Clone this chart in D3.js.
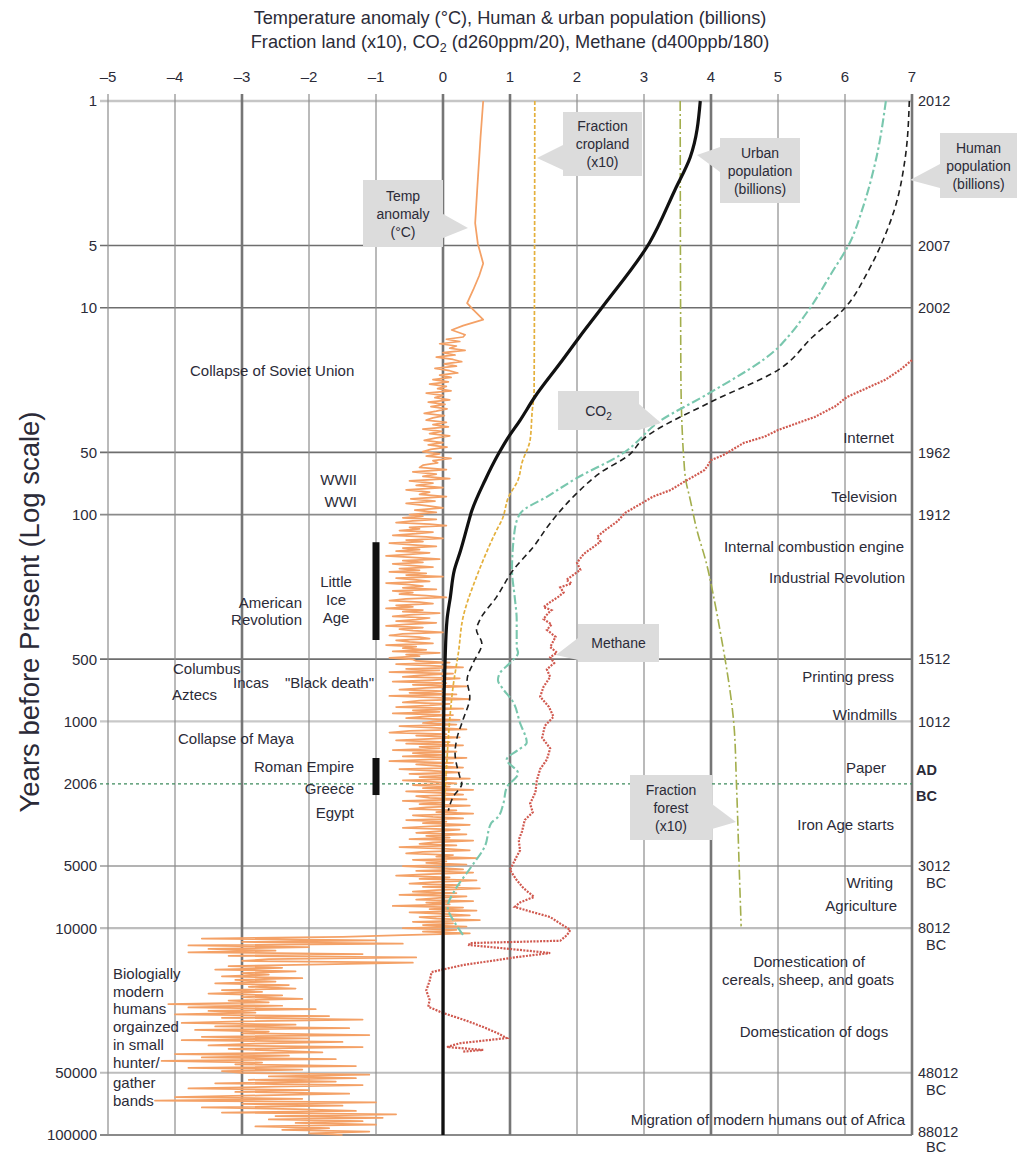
<!DOCTYPE html>
<html><head><meta charset="utf-8">
<script src="https://cdn.jsdelivr.net/npm/d3@7"></script>
<style>
body{margin:0;background:#fff}
svg{display:block}
text{font-family:"Liberation Sans",Arial,Helvetica,sans-serif;fill:#2b2b38}
</style>
</head><body>
<svg id="chart" width="1017" height="1155"></svg>
<script>
// ---------- axis data ----------
const xTicks = [-5,-4,-3,-2,-1,0,1,2,3,4,5,6,7];
const xTickLabels = ["\u20135","\u20134","\u20133","\u20132","\u20131","0","1","2","3","4","5","6","7"];
const xMajor = [-3,0,1,4,7];
const yTicks = [1,5,10,50,100,500,1000,5000,10000,50000,100000];
const yTickLabels = ["1","5","10","50","100","500","1000","5000","10000","50000","100000"];
const calendarLabels = [["2012"],["2007"],["2002"],["1962"],["1912"],["1512"],["1012"],["3012","BC"],["8012","BC"],["48012","BC"],["88012","BC"]];
const adBcYear = 2006;

// ---------- series (years before present, value) ----------
const urbanPop = [[1,3.84],[1.87,3.69],[2.7,3.46],[4.86,3.08],[10,2.37],[13.8,2.04],[18.5,1.75],[27,1.37],[35,1.15],[43,0.96],[51.4,0.82],[68,0.63],[98,0.42],[106,0.39],[150,0.26],[185,0.17],[250,0.11],[323,0.06],[522,0.03],[1000,0.01],[3000,0.004],[100000,0]];
const humanPop = [[1,6.96],[1.87,6.9],[3.25,6.75],[4.86,6.55],[6.79,6.33],[10,6.0],[13.8,5.52],[20,5.0],[28.5,4.0],[43.6,2.97],[51.4,2.78],[63,2.34],[78.7,2.0],[110,1.6],[143,1.35],[185,1.05],[250,0.8],[323,0.55],[361,0.5],[420,0.58],[522,0.45],[630,0.36],[760,0.4],[980,0.3],[1200,0.21],[1420,0.18],[1850,0.25],[2000,0.28],[2320,0.15],[2700,0.08]];
const co2 = [[1,6.61],[1.87,6.47],[3.25,6.27],[4.86,6.07],[6.79,5.8],[10,5.48],[13.8,5.15],[15.6,5.0],[25.8,3.98],[34.9,3.26],[51.4,2.65],[66.5,2.0],[82,1.55],[98,1.16],[119,1.07],[185,1.03],[250,1.07],[323,1.1],[437,1.1],[465,1.12],[522,1.0],[583,0.85],[630,0.82],[700,0.9],[790,1.03],[1018,1.15],[1270,1.25],[1375,1.12],[1530,0.95],[1780,1.12],[2090,0.95],[2500,0.9],[2900,0.82],[3100,0.72],[4050,0.62],[5060,0.42],[6530,0.18],[7890,0.07],[9440,0.18],[10790,0.3]];
const methane = [[17.9,7.0],[20,6.82],[22.3,6.6],[27,6.03],[30,5.85],[33.7,5.55],[39,5.0],[42,4.8],[45,4.49],[51.4,4.19],[54.5,4.0],[58,3.95],[61,3.9],[70,3.58],[76,3.4],[82,3.13],[88,2.97],[98,2.72],[108,2.6],[119,2.42],[128,2.3],[135,2.35],[143,2.25],[155,2.1],[171,2.0],[185,2.05],[207,1.84],[215,1.92],[225,1.75],[238,1.8],[250,1.72],[265,1.6],[280,1.5],[290,1.62],[299,1.57],[320,1.5],[340,1.62],[361,1.55],[390,1.68],[437,1.6],[465,1.7],[490,1.6],[522,1.66],[560,1.55],[610,1.6],[680,1.5],[760,1.45],[850,1.58],[950,1.65],[1050,1.52],[1200,1.48],[1350,1.6],[1530,1.55],[1700,1.45],[1930,1.4],[2200,1.38],[2500,1.3],[2750,1.34],[3000,1.22],[3400,1.18],[3740,1.13],[4200,1.15],[4500,1.1],[5230,1.0],[5850,1.1],[6400,1.2],[7060,1.36],[7500,1.15],[7890,1.07],[8300,1.3],[8830,1.6],[9500,1.75],[10200,1.9],[10800,1.85],[11500,1.75],[11800,0.4],[12060,0.39],[12600,1.0],[13180,1.6],[13800,1.1],[15070,0.3],[16290,-0.17],[18000,-0.2],[20000,-0.25],[22200,-0.2],[24000,-0.22],[25700,0.0],[28000,0.35],[30060,0.6],[32000,0.8],[33970,0.95],[35000,0.6],[36000,0.25],[37530,0.06],[38800,0.6],[39500,0.3]];
const cropland = [[1,1.37],[25,1.36],[32,1.33],[43.6,1.3],[56,1.18],[68,1.12],[82,0.98],[106,0.88],[119,0.8],[166,0.6],[200,0.5],[313,0.3],[465,0.23],[680,0.15],[980,0.1],[1720,0.05],[2800,0.01]];
const forest = [[1,3.54],[20,3.55],[39,3.57],[51.4,3.59],[70,3.63],[82,3.68],[119,3.79],[171,3.93],[250,4.04],[404,4.16],[522,4.22],[1018,4.34],[2003,4.38],[5000,4.42],[9800,4.45]];

// temperature anomaly: recent smooth part (years, °C), then noisy stretches read in hundredths of °C
const tempRecent = [[1,0.6],[1.5,0.56],[2.7,0.51],[3.9,0.48],[4.9,0.52],[6.1,0.6],[7,0.54],[8.2,0.45],[9.5,0.36],[10.2,0.45],[11.4,0.6],[12.2,0.3],[12.8,0.13],[13.5,0.33]];
const tempA = [30,5,25,-5,20,10,33,0,18,-10,15,28,2,20,-12,10,22,-5,12,
  -15,8,-20,5,-8,12,-25,0,-12,10,-22,3,-18,6,-10,-28,2,-15,
  -25,5,-15,8,-30,-2,-20,10,-12,-28,0,-22,6,-18,-30,-5,-25,12,-15,-8,-30,
  -35,5,-45,-10,-30,10,-50,-15,-40,0,-55,-20,-35,5,-48,-12,-55,-25,0,-42,-10,-50];
const tempB = [-30,-60,-10,-45,-70,-20,5,-50,-35,-65,-15,-40,-75,-25,0,-55,-30,-80,-45,-10,
  -60,-35,-70,-20,-50,-85,-40,-5,-60,-30,-75,-45,-15,-65,-35,-80,-25,-55,0,-70,
  -40,-20,-85,-50,-30,-60,-10,-75,-45,-65,-25,5,-55,-80,-35,-15,-70,-45,-85,-30,
  -60,-5,-50,-75,-20,-40,-70,-10,-55,-85,-30,-65,-45,0,-60,-80,-35,-20,-70,-50,
  -15,-85,-40,-60,-25,-75,-5,-55,-35,-80,-45,
  -40,10,-70,-20,30,-55,-5,-80,15,-35,-60,25,-15,-75,5,-45,35,-25,-65,0,
  -50,20,-80,-10,40,-35,-60,10,-20,-70,30,-45,-5,-75,15,-30,-55,25,-15];
const tempC = [-30,20,-65,-10,35,-50,-80,5,-40,25,-20,-70,10,-55,30,-35,-5,-75,20,-45,
  0,-60,35,-25,-80,15,-40,-10,30,-65,-20,25,-50,5,-35,40,-60,-15,20,-45,
  10,-30,45,-55,-5,30,-40,-20,35,-60,0,-35,40,-25,-50,20,-10,45,-45,-15,
  30,-55,5,-30,40,-20,-60,25,-5,-40,35,-25,10,-50,45,-15,-35,20,-65,0,
  40,-30,-55,15,-10,50,-45,5,-25,35,-60,-5,30,-40,45,-20,-70,10,-35,50,
  -15,-50,25,-30,55,-10,-45,20,-65,35,-5,-40,45,-25,10,-75,30,-20,50,-50,
  0,40,-35,-10,55,-45,15,-30,35,-60];
const tempD = [20,-30,40,-60,
  -150,-360,-100,-300,-60,-380,-200,
  -350,-250,-380,-120,-320,-40,-260,-300,-45,-180,
  -320,-240,-340,-220,-300,-260,-330,-210,-310,-250,-340,-230,-290,-220,-330,-270,-350,-240,-300,-210,-320,-260,
  -410,-240,-380,-190,-350,-280,-400,-170,-330,-120,-300,
  -390,-220,-340,-140,-370,-260,-300,-110,-360,-200,-390,-150,-280,-350,-120,-320,-250,-180,-400,-230,-360,-160,-420,-270,-310,-130,-380,-210,-330,
  -300,-110,-260,-130,-290,-160,-340,-120,-250,-380,-200,-310,-140,-270,
  -400,-210,-430,-100,-300,-150,-360,-220,-130,-330,-70,-250,
  -90,-260,-120,-220,-100,-280,-170,-240,-110,-200,-150];
const tempSpans = [[13.5,100,tempA],[100,1000,tempB],[1000,10000,tempC],[10000,100000,tempD]];

// coolings marked with bars: [x value, from years, to years]
const coolBars = [[-1,136,404],[-1,1503,2270]];

// ---------- scales ----------
const svg = d3.select("#chart");
const x = d3.scaleLinear().domain([-5,7]).range([108,912]);
const y = d3.scaleLog().domain([1,100000]).range([101,1135]);

// ---------- titles ----------
svg.append("text").attr("x",510).attr("y",24).attr("text-anchor","middle").attr("font-size",18.2)
  .text("Temperature anomaly (\u00B0C),  Human & urban population (billions)");
const t2 = svg.append("text").attr("x",510).attr("y",48).attr("text-anchor","middle").attr("font-size",18.2);
t2.append("tspan").text("Fraction land (x10),  CO");
t2.append("tspan").attr("font-size",12.5).attr("dy",4).text("2");
t2.append("tspan").attr("dy",-4).text(" (d260ppm/20), Methane (d400ppb/180)");

// ---------- grid ----------
const grid = svg.append("g");
const hStyle = {1:["#c6c6c6",2.5],5:["#6e6e6e",1.6],10:["#6e6e6e",1.6],50:["#6e6e6e",1.6],100:["#8a8a8a",1.6],500:["#6e6e6e",1.6],1000:["#c8c8c8",2.2],5000:["#9a9a9a",1.5],10000:["#bdbdbd",2.2],50000:["#bdbdbd",1.8],100000:["#8a8a8a",2]};
grid.selectAll("line.h").data(yTicks).join("line").attr("class","h")
  .attr("x1",100).attr("x2",x(7)).attr("y1",d=>y(d)).attr("y2",d=>y(d))
  .attr("stroke",d=>hStyle[d][0]).attr("stroke-width",d=>hStyle[d][1]);
grid.selectAll("line.v").data(xTicks).join("line").attr("class","v")
  .attr("x1",d=>x(d)).attr("x2",d=>x(d)).attr("y1",94).attr("y2",y(100000))
  .attr("stroke",d=>xMajor.includes(d)?"#767676":"#8c8c8c")
  .attr("stroke-width",d=>xMajor.includes(d)?2.6:1.2);

// top axis labels
svg.selectAll("text.xt").data(xTicks).join("text").attr("class","xt")
  .attr("x",d=>x(d)).attr("y",82).attr("text-anchor","middle").attr("font-size",15)
  .text((d,i)=>xTickLabels[i]);
// left labels
svg.selectAll("text.yt").data(yTicks).join("text").attr("class","yt")
  .attr("x",97).attr("y",d=>y(d)).attr("dy","0.36em").attr("text-anchor","end").attr("font-size",15)
  .text((d,i)=>yTickLabels[i]);
svg.append("text").attr("x",97).attr("y",y(adBcYear)).attr("dy","0.36em").attr("text-anchor","end").attr("font-size",15).text(String(adBcYear));
// right calendar labels
yTicks.forEach((d,i)=>{
  const lab = calendarLabels[i];
  const yy = d===100000 ? y(d)-3 : y(d);
  const t = svg.append("text").attr("x",918).attr("y",yy).attr("dy","0.36em").attr("font-size",14.5);
  if(lab.length===1){ t.text(lab[0]); }
  else {
    t.append("tspan").attr("x",918).text(lab[0]);
    t.append("tspan").attr("x",926).attr("dy",d===100000?15:17).text(lab[1]);
  }
});
svg.append("text").attr("x",916).attr("y",y(adBcYear)-14).attr("dy","0.36em").attr("font-size",14.5).attr("font-weight","bold").text("AD");
svg.append("text").attr("x",916).attr("y",y(adBcYear)+12).attr("dy","0.36em").attr("font-size",14.5).attr("font-weight","bold").text("BC");

// AD/BC dotted line
svg.append("line").attr("x1",100).attr("x2",x(7)).attr("y1",y(adBcYear)).attr("y2",y(adBcYear))
  .attr("stroke","#3d8a5c").attr("stroke-width",1.3).attr("stroke-dasharray","3,3");

// y axis title
svg.append("text").attr("transform",`translate(29,612) rotate(-90)`).attr("dy","0.36em")
  .attr("text-anchor","middle").attr("font-size",27.5).attr("fill","#333").text("Years before Present (Log scale)");

// ---------- series ----------
const plot = svg.append("g");
const smooth = d3.line().x(d=>x(d[1])).y(d=>y(d[0])).curve(d3.curveMonotoneY);
const straight = d3.line().x(d=>x(d[1])).y(d=>y(d[0]));

// temperature
let tempSeries = tempRecent.slice();
tempSpans.forEach(([a,b,vals])=>{
  const n = vals.length;
  vals.forEach((v,i)=>{ tempSeries.push([a*Math.pow(b/a,(i+1)/n), v/100]); });
});
plot.append("path").attr("d",straight(tempSeries)).attr("fill","none")
  .attr("stroke","#f4a166").attr("stroke-width",1.75).attr("stroke-linejoin","round");

plot.append("path").attr("d",smooth(cropland)).attr("fill","none")
  .attr("stroke","#e4b03c").attr("stroke-width",1.7).attr("stroke-dasharray","4,2");
plot.append("path").attr("d",smooth(forest)).attr("fill","none")
  .attr("stroke","#a3ae4c").attr("stroke-width",1.6).attr("stroke-dasharray","10,3,2,3");
plot.append("path").attr("d",straight(methane)).attr("fill","none")
  .attr("stroke","#d0594f").attr("stroke-width",2.2).attr("stroke-dasharray","2,1.3");
plot.append("path").attr("d",smooth(co2)).attr("fill","none")
  .attr("stroke","#79c7ae").attr("stroke-width",2.1).attr("stroke-dasharray","9,3,2.5,3");
plot.append("path").attr("d",smooth(humanPop)).attr("fill","none")
  .attr("stroke","#1e1e1e").attr("stroke-width",1.6).attr("stroke-dasharray","6,4");
plot.append("path").attr("d",smooth(urbanPop)).attr("fill","none")
  .attr("stroke","#111").attr("stroke-width",3.2);

// bars
plot.selectAll("rect.bar").data(coolBars).join("rect").attr("class","bar")
  .attr("x",d=>x(d[0])-3.5).attr("width",7).attr("y",d=>y(d[1])).attr("height",d=>y(d[2])-y(d[1]))
  .attr("fill","#111");

// ---------- event annotations ----------
const events = [
 ["Collapse of Soviet Union",190,371,"start"],
 ["WWII",357,480,"end"],["WWI",357,502,"end"],
 ["Little",336,582,"middle"],["Ice",336,600,"middle"],["Age",336,618,"middle"],
 ["American",302,603,"end"],["Revolution",302,620,"end"],
 ["Columbus",173,669,"start"],["Incas",233,683,"start"],["\"Black death\"",285,683,"start"],["Aztecs",172,695,"start"],
 ["Collapse of Maya",178,739,"start"],
 ["Roman Empire",354,767,"end"],["Greece",354,789,"end"],["Egypt",354,813,"end"],
 ["Biologially",113,974,"start"],["modern",113,992,"start"],["humans",113,1009,"start"],["orgainzed",113,1027,"start"],
 ["in small",113,1045,"start"],["hunter/",113,1063,"start"],["gather",113,1083,"start"],["bands",113,1101,"start"],
 ["Internet",894,438,"end"],["Television",897,497,"end"],["Internal combustion engine",904,547,"end"],
 ["Industrial Revolution",905,578,"end"],["Printing press",894,677,"end"],["Windmills",897,715,"end"],
 ["Paper",886,768,"end"],["Iron Age starts",894,825,"end"],["Writing",893,883,"end"],["Agriculture",897,906,"end"],
 ["Domestication of",809,962,"middle"],["cereals, sheep, and goats",808,980,"middle"],
 ["Domestication of dogs",814,1032,"middle"],
 ["Migration of modern humans out of Africa",905,1120,"end"]
];
svg.append("g").selectAll("text").data(events).join("text")
  .attr("x",d=>d[1]).attr("y",d=>d[2]).attr("dy","0.36em").attr("text-anchor",d=>d[3])
  .attr("font-size",15).text(d=>d[0]);

// ---------- callouts ----------
const callouts = [
 {lines:["Temp","anomaly","(\u00B0C)"], box:[363,180,80,67], ptr:[[443,214],[443,238],[468,228]]},
 {lines:["Fraction","cropland","(x10)"], box:[563,112,79,64], ptr:[[563,145],[563,170],[537,158]]},
 {lines:["Urban","population","(billions)"], box:[720,138,80,65], ptr:[[720,147],[720,172],[697,155]]},
 {lines:["Human","population","(billions)"], box:[940,133,77,65], ptr:[[940,164],[940,188],[910,180]]},
 {lines:["CO2"], box:[558,391,81,39], ptr:[[639,404],[639,430],[661,423]]},
 {lines:["Methane"], box:[578,624,81,38], ptr:[[578,638],[578,660],[556,655]]},
 {lines:["Fraction","forest","(x10)"], box:[630,775,82,65], ptr:[[712,804],[712,829],[736,822]]}
];
const cg = svg.append("g");
callouts.forEach(c=>{
  const [bx,by,bw,bh] = c.box;
  cg.append("path").attr("d",d3.line()(c.ptr)+"Z").attr("fill","#dcdcdc");
  cg.append("rect").attr("x",bx).attr("y",by).attr("width",bw).attr("height",bh).attr("fill","#dcdcdc");
  const n = c.lines.length, cy = by+bh/2;
  c.lines.forEach((s,i)=>{
    const t = cg.append("text").attr("x",bx+bw/2).attr("y",cy+(i-(n-1)/2)*18).attr("dy","0.36em")
      .attr("text-anchor","middle").attr("font-size",14).attr("fill","#3a3650");
    if(s==="CO2"){ t.append("tspan").text("CO"); t.append("tspan").attr("font-size",10).attr("dy",4).text("2"); }
    else t.text(s);
  });
});
</script>
</body></html>
